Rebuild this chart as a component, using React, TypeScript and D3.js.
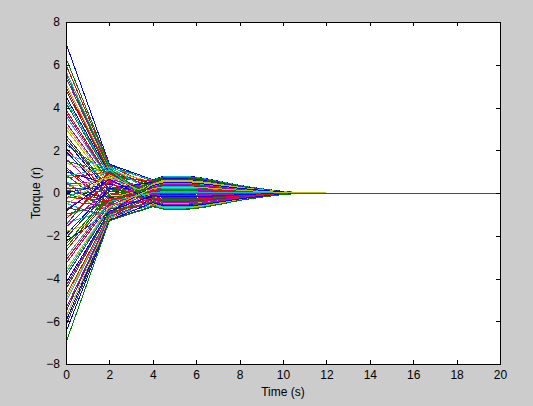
import React, { useRef, useEffect } from 'react';
import * as d3 from 'd3';

const torqueAt0 = [
  7.0, 6.3, 6.0, 5.7, 5.4, 5.1, 4.8, 4.5, 4.2, 3.9, 3.6, 3.3, 3.0, 2.7, 2.4, 2.25, 2.1, 1.8, 1.6, 1.4,
  1.2, 1.0, 0.85, 0.7, 0.55, 0.4, 0.3, 0.2, 0.1,
  5.55, 4.95, 4.35, 3.75, 3.15, 2.55, 1.95, 1.5, 1.1, 0.78, 0.48, 0.25, 0.15, 0.0,
  -0.05, -0.25, -0.48, -0.78, -1.1, -1.5, -1.95, -2.55, -3.15, -3.75, -4.35, -4.95, -5.55, -6.0,
  -0.1, -0.2, -0.3, -0.4, -0.55, -0.7, -0.85, -1.0, -1.2,
  -1.4, -1.6, -1.8, -2.1, -2.25, -2.4, -2.7, -3.0, -3.3, -3.6, -3.9, -4.2, -4.5, -4.8, -5.1, -5.4, -5.8,
  -6.2, -6.5, -7.0,
];
const torqueAt2 = [
  1.35, 1.3, 1.25, 1.2, 1.1, 1.05, 0.95, 0.9, 0.8, 0.7, 0.6, 0.5, 0.35, 0.2, 0.05, 0.9, -0.1, 1.15, -0.3, 0.75,
  -0.5, 0.4, -0.7, 1.0, -0.9, 0.6, -1.1, 0.25, -0.2,
  1.15, 1.0, 0.85, 0.65, 0.45, 0.15, -0.2, 0.95, -0.6, 1.2, -0.95, 0.7, -0.4, 0.45,
  -0.55, 0.9, -1.2, 0.55, -0.3, 1.0, 0.2, -0.15, -0.45, -0.7, -0.88, -1.02, -1.15, -1.22,
  0.15, -0.35, 1.1, -0.6, 0.85, -1.0, 0.65, -0.45, 0.5,
  -0.8, 0.3, -1.15, 0.1, -0.9, -0.05, -0.25, -0.4, -0.55, -0.65, -0.75, -0.85, -0.9, -1.0, -1.05, -1.1, -1.2,
  -1.25, -1.28, -1.3,
];
const torqueAt4 = [
  0.62, 0.55, 0.35, 0.6, 0.2, 0.5, -0.1, 0.45, 0.1, 0.58, -0.3, 0.3, 0.4, -0.2, 0.25, -0.15, 0.05, -0.45, 0.15, -0.35,
  0.52, -0.05, 0.38, -0.5, 0.22, -0.25, 0.48, -0.15, 0.0,
  -0.35, 0.4, -0.55, 0.15, -0.4, 0.55, -0.1, 0.32, -0.3, 0.05, 0.45, -0.58, 0.25, -0.25,
  0.6, -0.35, 0.15, -0.1, 0.38, -0.45, 0.5, -0.25, 0.3, -0.5, 0.1, -0.35, 0.0, -0.28,
  -0.02, 0.12, -0.48, 0.28, -0.2, 0.5, -0.4, 0.08, -0.55,
  0.33, -0.08, 0.42, -0.28, 0.35, 0.18, -0.52, 0.02, -0.32, 0.2, -0.6, -0.12, -0.42, -0.22, -0.58, -0.38, -0.5,
  -0.62, -0.45, -0.64,
];
const torqueAt45 = [
  0.78, 0.74, 0.5, 0.76, 0.3, 0.68, -0.12, 0.6, 0.15, 0.72, -0.4, 0.42, 0.55, -0.25, 0.36, -0.2, 0.08, -0.6, 0.22, -0.5,
  0.66, -0.05, 0.5, -0.66, 0.32, -0.35, 0.64, -0.2, 0.02,
  -0.45, 0.52, -0.7, 0.2, -0.54, 0.7, -0.14, 0.44, -0.42, 0.06, 0.58, -0.74, 0.34, -0.33,
  0.74, -0.48, 0.2, -0.12, 0.52, -0.6, 0.66, -0.34, 0.4, -0.66, 0.14, -0.48, 0.0, -0.38,
  -0.01, 0.18, -0.62, 0.38, -0.3, 0.64, -0.55, 0.1, -0.7,
  0.46, -0.1, 0.58, -0.38, 0.48, 0.26, -0.68, 0.04, -0.45, 0.28, -0.74, -0.18, -0.58, -0.3, -0.72, -0.52, -0.68,
  -0.76, -0.6, -0.75,
];
// how the bundle narrows after t = 4.5 (fraction of its width at 4.5)
const decayTimes = [5.5, 6, 7, 8, 9, 10, 11, 12, 20];
const decayFactor = [1, 0.95, 0.72, 0.46, 0.26, 0.1, 0.02, 0, 0];

const xTicks = [0, 2, 4, 6, 8, 10, 12, 14, 16, 18, 20];
const yTicks = [-8, -6, -4, -2, 0, 2, 4, 6, 8];
const lineColors = ['#0000ff', '#008000', '#ff0000', '#00bfbf', '#bf00bf', '#bfbf00', '#404040'];

const App = () => {
  const svgRef = useRef(null);
  const width = 533;
  const height = 406;
  const margin = { top: 22, right: 33, bottom: 42, left: 66 };
  const innerWidth = width - margin.left - margin.right;
  const innerHeight = height - margin.top - margin.bottom;

  useEffect(() => {
    const svg = d3.select(svgRef.current);
    svg.selectAll('*').remove();

    const x = d3.scaleLinear().domain([0, 20]).range([0, innerWidth]);
    const y = d3.scaleLinear().domain([-8, 8]).range([innerHeight, 0]);

    svg.append('rect').attr('width', width).attr('height', height).attr('fill', '#cccccc');

    const g = svg.append('g').attr('transform', `translate(${margin.left},${margin.top})`);
    g.append('rect').attr('width', innerWidth).attr('height', innerHeight).attr('fill', '#ffffff');

    const runs = torqueAt0.map((v0, i) => {
      const head = [
        [0, v0],
        [2, torqueAt2[i]],
        [4, torqueAt4[i]],
        [4.5, torqueAt45[i]],
      ];
      const tail = [[4.5, torqueAt45[i]]];
      decayTimes.forEach((t, k) => tail.push([t, torqueAt45[i] * decayFactor[k]]));
      return { head, tail };
    });

    const headLine = d3.line()
      .x(d => x(d[0]))
      .y(d => y(d[1]));
    const tailLine = d3.line()
      .x(d => x(d[0]))
      .y(d => y(d[1]))
      .curve(d3.curveMonotoneX);

    g.selectAll('.run')
      .data(runs)
      .enter()
      .append('path')
      .attr('class', 'run')
      .attr('d', d => headLine(d.head) + tailLine(d.tail))
      .attr('fill', 'none')
      .attr('stroke', (d, i) => lineColors[i % lineColors.length])
      .attr('stroke-width', 1)
      .attr('shape-rendering', 'crispEdges');

    const font = 'Arial, "Liberation Sans", sans-serif';

    // ticks on all four sides, pointing in
    const bottom = g.append('g').attr('transform', `translate(0,${innerHeight})`)
      .call(d3.axisBottom(x).tickValues(xTicks).tickSizeInner(-4).tickSizeOuter(0).tickPadding(6));
    g.append('g')
      .call(d3.axisTop(x).tickValues(xTicks).tickSizeInner(-4).tickSizeOuter(0).tickFormat(() => ''));
    const left = g.append('g')
      .call(d3.axisLeft(y).tickValues(yTicks).tickSizeInner(-4).tickSizeOuter(0).tickPadding(6));
    g.append('g').attr('transform', `translate(${innerWidth},0)`)
      .call(d3.axisRight(y).tickValues(yTicks).tickSizeInner(-4).tickSizeOuter(0).tickFormat(() => ''));

    g.selectAll('.domain').remove();
    g.selectAll('.tick line').attr('stroke', '#000').attr('shape-rendering', 'crispEdges');
    [bottom, left].forEach(a => a.selectAll('text')
      .attr('fill', '#000').style('font-family', font).style('font-size', '12px'));

    g.append('rect')
      .attr('width', innerWidth)
      .attr('height', innerHeight)
      .attr('fill', 'none')
      .attr('stroke', '#000')
      .attr('shape-rendering', 'crispEdges');

    svg.append('text')
      .attr('x', margin.left + innerWidth / 2)
      .attr('y', 396)
      .attr('text-anchor', 'middle')
      .style('font-family', font)
      .style('font-size', '12px')
      .text('Time (s)');

    svg.append('text')
      .attr('transform', `translate(40,${margin.top + innerHeight / 2}) rotate(-90)`)
      .attr('text-anchor', 'middle')
      .style('font-family', font)
      .style('font-size', '12px')
      .text('Torque (r)');
  }, []);

  return (
    <svg ref={svgRef} width={width} height={height} style={{ position: 'fixed', left: 0, top: 0 }}></svg>
  );
};

export default App;
